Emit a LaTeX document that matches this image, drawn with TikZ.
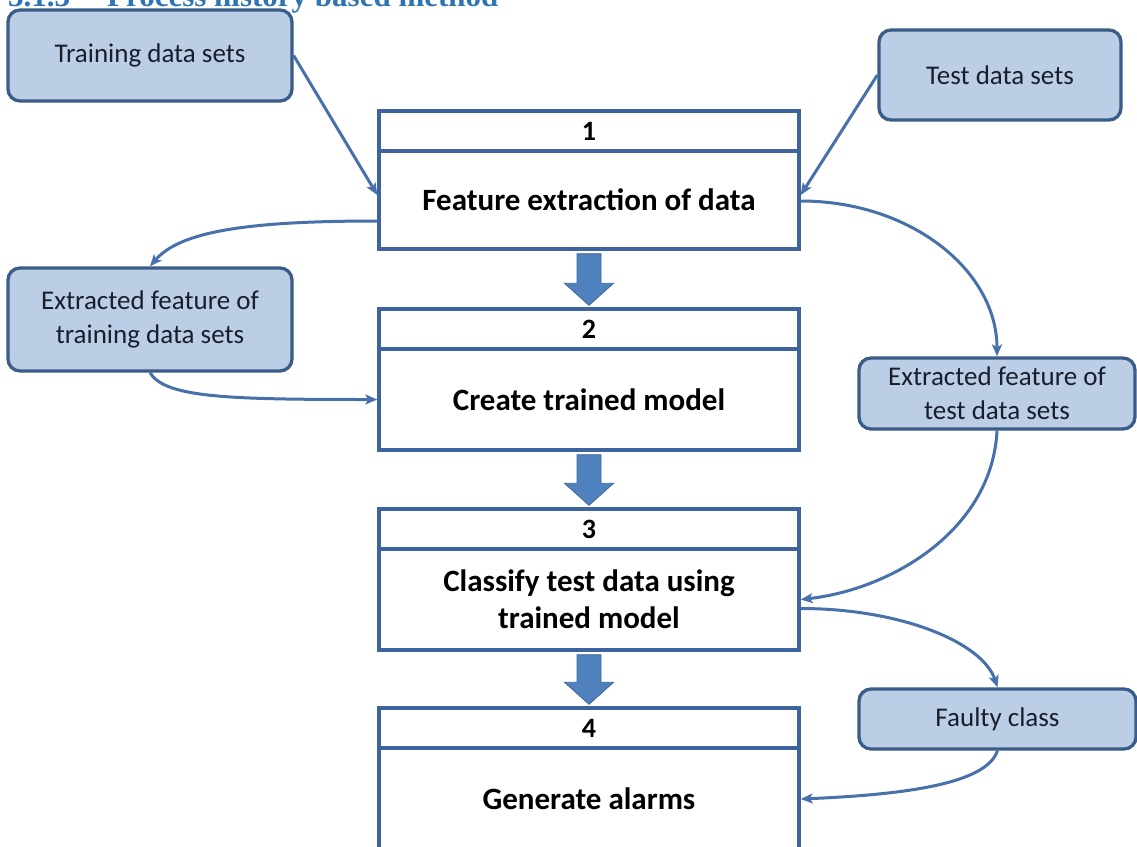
\documentclass[tikz,border=0pt]{standalone}
\usepackage{fontspec}
\setmainfont{Carlito}
\newfontfamily\headfont{Liberation Serif}
\usetikzlibrary{calc,arrows.meta}

\definecolor{lightfill}{RGB}{187,206,230}
\definecolor{lightedge}{RGB}{58,92,136}
\definecolor{boxedge}{RGB}{62,100,158}
\definecolor{linkcol}{RGB}{72,112,170}
\definecolor{bigarrowfill}{RGB}{79,129,189}
\definecolor{headcol}{RGB}{46,116,181}
\definecolor{txtcol}{RGB}{25,30,45}

\tikzset{
  databox/.style={draw=lightedge, fill=lightfill, line width=3.3pt, rounded corners=12pt,
    text=txtcol, font=\fontsize{27}{34}\selectfont, align=center, inner sep=0pt},
  numcell/.style={draw=boxedge, fill=white, line width=3.4pt, minimum width=420pt,
    minimum height=40pt, inner sep=0pt, font=\bfseries\fontsize{28}{34}\selectfont},
  stepcell/.style={draw=boxedge, fill=white, line width=3.4pt, minimum width=420pt,
    inner sep=0pt, font=\bfseries\fontsize{31}{37}\selectfont, align=center},
  link/.style={draw=linkcol, line width=3pt, -{Stealth[length=12pt,width=10pt,inset=3pt]}},
  bigarrow/.style={fill=bigarrowfill, draw=boxedge, line width=0.8pt},
  heading/.style={anchor=base west, inner sep=0pt, text=headcol,
    font=\headfont\bfseries\fontsize{31}{36}\selectfont},
}

% thick block arrow between two stacked step boxes
\newcommand\blockarrow[2]{%
  \path[bigarrow] let \p1=(#1.south), \p2=(#2.north) in
    (\x1-12pt,\y1-3pt) -- (\x1+12pt,\y1-3pt) -- (\x1+12pt,\y2+24pt)
    -- (\x1+24.5pt,\y2+24pt) -- (\x1,\y2+2pt) -- (\x1-24.5pt,\y2+24pt)
    -- (\x1-12pt,\y2+24pt) -- cycle;}

\begin{document}
\begin{tikzpicture}[x=1pt,y=-1pt]
  \clip (0,0) rectangle (1137,846);
  \fill[white] (0,0) rectangle (1137,846);

  % section heading
  \node[heading] (secnum) at (8,6) {3.1.3};
  \node[heading] (sectitle) at (107,6) {Process history based method};

  % step boxes
  \node[numcell] (h1) at (589,131) {1};
  \node[stepcell, minimum height=98pt] (b1) at (589,200) {Feature extraction of data};
  \node[numcell] (h2) at (589,329) {2};
  \node[stepcell, minimum height=101pt] (b2) at (589,399.5) {Create trained model};
  \node[numcell] (h3) at (589,529) {3};
  \node[stepcell, minimum height=101pt] (b3) at (589,599.5) {Classify test data using\\trained model};
  \node[numcell] (h4) at (589,728) {4};
  \node[stepcell, minimum height=102pt] (b4) at (589,799) {Generate alarms};

  % data boxes
  \node[databox, minimum width=284pt, minimum height=91pt] (train) at (150,55.5) {Training data sets};
  \node[databox, minimum width=242pt, minimum height=90pt] (test) at (1000,75) {Test data sets};
  \node[databox, minimum width=284pt, minimum height=103pt] (extrain) at (150,319.5) {Extracted feature of\\training data sets};
  \node[databox, minimum width=276pt, minimum height=71pt] (extest) at (997,393.5) {Extracted feature of\\test data sets};
  \node[databox, minimum width=277pt, minimum height=60pt] (faulty) at (997.5,719) {Faulty class};

  % flow between steps
  \blockarrow{b1}{h2}
  \blockarrow{b2}{h3}
  \blockarrow{b3}{h4}

  % data links
  \draw[link] (train.east) -- ([yshift=5pt]b1.west);
  \draw[link] (test.west) -- ([yshift=5pt]b1.east);
  \draw[link] ([yshift=-21pt]b1.west) .. controls +(-130,0) and +(30,-35) .. (extrain.north);
  \draw[link] (extrain.south) .. controls +(15,25) and +(-150,0) .. (b2.west);
  \draw[link] ([yshift=-1pt]b1.east) .. controls +(110,0) and +(0,-86) .. (extest.north);
  \draw[link] (extest.south) .. controls +(-5,100) and +(90,-10) .. (b3.east);
  \draw[link] ([yshift=-9pt]b3.east) .. controls +(100,0) and +(-15,-45) .. (faulty.north);
  \draw[link] (faulty.south) .. controls +(-10,30) and +(120,-5) .. (b4.east);
\end{tikzpicture}
\end{document}
